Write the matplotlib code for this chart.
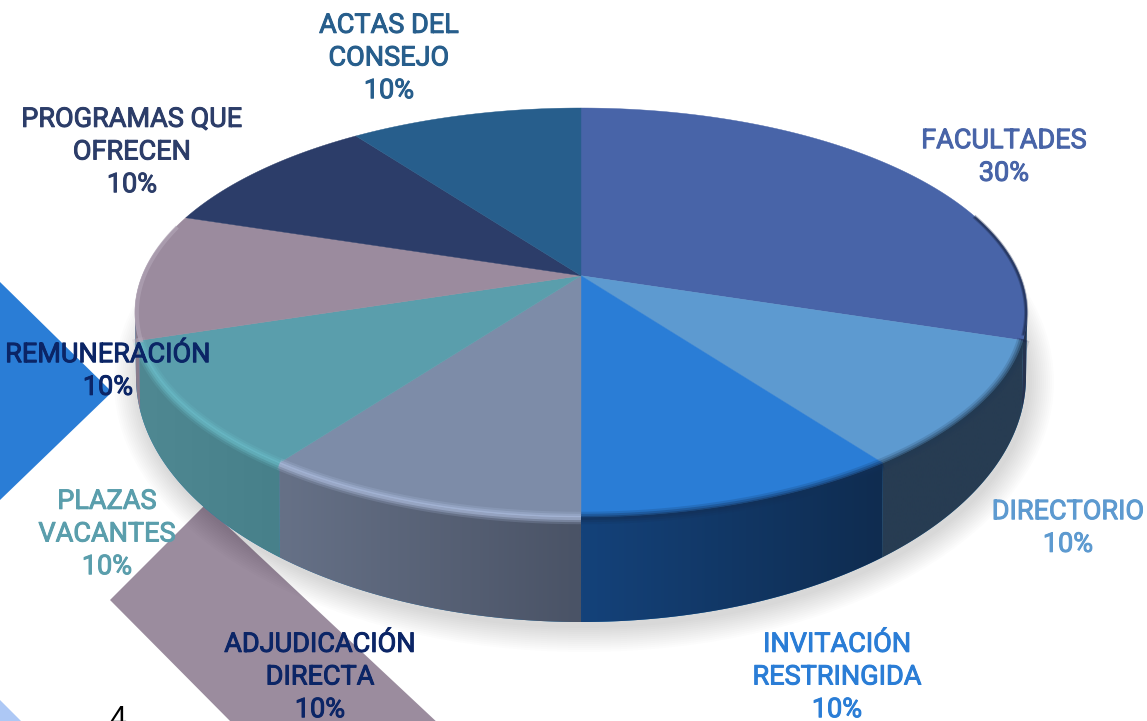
import numpy as np
import matplotlib.pyplot as plt
import matplotlib.patheffects as pe
from matplotlib.patches import Polygon, Ellipse
from matplotlib.colors import to_rgb

categories = ["FACULTADES", "DIRECTORIO", "INVITACIÓN\nRESTRINGIDA", "ADJUDICACIÓN\nDIRECTA",
              "PLAZAS\nVACANTES", "REMUNERACIÓN", "PROGRAMAS QUE\nOFRECEN", "ACTAS DEL\nCONSEJO"]
values = [30, 10, 10, 10, 10, 10, 10, 10]

face_colors = ["#4864a8", "#5d9ad0", "#2a7dd6", "#7d8ca8", "#5a9eac", "#9b8b9e", "#2c3d69", "#275e8c"]
text_colors = ["#4864a8", "#5d9ad0", "#2a7dd6", "#0b2566", "#5a9eac", "#0b2566", "#2c3d69", "#275e8c"]
side_left = ["#26334f", "#273c52", "#14427a", "#667187", "#4f8892", "#8a7d8d", "#222f50", "#1e486c"]
side_right = ["#26334f", "#273c52", "#0f2c50", "#4a5366", "#47808a", "#8a7d8d", "#222f50", "#1e486c"]
rim_colors = ["#1c2a4c", "#223a52", "#123058", "#b4c4e6", "#6cc0cc", "#b3a7b8", "#2c3d69", "#275e8c"]
label_xy = [(1004, 157), (1068, 528), (837, 677), (320, 677), (107, 534), (108, 371), (132, 152), (389, 58)]

W, H = 1147, 721
# top face ellipse, bottom outline ellipse, apex offset of the perspective
CX, CY, RX, RY = 581, 312.5, 446, 204.5
BX, BY, BRX, BRY = 581, 377, 445, 245
APEX = 0.18


def project(frac):
    """Clockwise fraction from 12 o'clock -> normalised point on the tilted disc."""
    t = 2 * np.pi * np.asarray(frac)
    x, y = np.sin(t), np.cos(t)
    d = 1 + APEX * y
    return x * np.sqrt(1 - APEX ** 2) / d, (y + APEX) / d


def top_xy(x, y):
    return CX + RX * x, CY - RY * y


def bottom_xy(x):
    return BX + BRX * x, BY + BRY * np.sqrt(np.clip(1 - x ** 2, 0, 1))


fig = plt.figure(figsize=(W / 100, H / 100), dpi=100)
ax = fig.add_axes([0, 0, 1, 1])
ax.set_xlim(0, W)
ax.set_ylim(H, 0)
ax.axis("off")

# slide decoration behind the chart
ax.add_patch(Polygon([(0, 282), (112, 392), (0, 500)], color="#2a7dd6", lw=0, zorder=1))
ax.add_patch(Polygon([(110, 600), (205, 505), (440, 725), (234, 725)], color="#9b8c9e", lw=0, zorder=1))
ax.add_patch(Polygon([(0, 700), (21, 721), (0, 721)], color="#adc8f5", lw=0, zorder=1))
# the page number is cut by the bottom edge in the reference too
ax.text(118, 728, "4", fontsize=22, family="Liberation Sans", ha="center", va="baseline",
        color="black", zorder=1, clip_on=True)

# soft shadow under the disc
for k in np.arange(1, 26, 2):
    ax.add_patch(Ellipse((BX + 3, BY + 5), 2 * (BRX + k), 2 * (BRY + k), color="black", alpha=0.012, lw=0, zorder=2))

edges = np.cumsum([0] + values) / sum(values)
for i in range(len(values)):
    frac = np.linspace(edges[i], edges[i + 1], 200)
    x, y = project(frac)
    tx, ty = top_xy(x, y)

    # side wall, only where the rim is on the near half
    near = y < 0
    if near.any():
        sx, sy = tx[near], ty[near]
        bx, by = bottom_xy(x[near])
        wall = Polygon(np.r_[np.c_[sx, sy], np.c_[bx, by][::-1]], lw=0, zorder=3)
        ax.add_patch(wall)
        grad = np.linspace(to_rgb(side_left[i]), to_rgb(side_right[i]), 64)[None, :, :]
        im = ax.imshow(grad, extent=[min(sx.min(), bx.min()), max(sx.max(), bx.max()), 700, 200],
                       aspect="auto", zorder=3.1, interpolation="bilinear")
        im.set_clip_path(wall)

    # top face wedge
    centre = top_xy(0, APEX)
    face = Polygon(np.r_[[centre], np.c_[tx, ty]], color=face_colors[i], lw=0.3, zorder=4)
    ax.add_patch(face)

    # bevel along the rim, kept off the widest points so it stays inside the outline
    band = y < -0.12
    if band.any():
        for lw, a in [(9, 0.18), (6, 0.3), (3, 0.45)]:
            ax.plot(tx[band], ty[band] + 1, color=rim_colors[i], lw=lw, alpha=a,
                    solid_capstyle="butt", zorder=5)

    # label
    lx, ly = label_xy[i]
    ax.text(lx, ly, f"{categories[i]}\n{values[i]}%", color=text_colors[i], ha="center", va="center",
            multialignment="center", fontsize=19.5, linespacing=1.27, zorder=6, family="Roboto",
            path_effects=[pe.withStroke(linewidth=0.7, foreground=text_colors[i])])

# dark edge on the right of the big slice, pale edge on the left of the mauve one
fr = np.linspace(0.2, 0.295, 80)
x, y = project(fr)
for lw, a in [(3, 0.35), (1.5, 0.6)]:
    ax.plot(*top_xy(x * 0.998, y), color="#1c2a4c", lw=lw, alpha=a, zorder=5)
x, y = project(np.linspace(0.7, 0.79, 80))
ax.plot(*top_xy(x * 0.996, y), color="#b3a7b8", lw=3, alpha=0.6, zorder=5)

fig.savefig("out.png", dpi=100)
